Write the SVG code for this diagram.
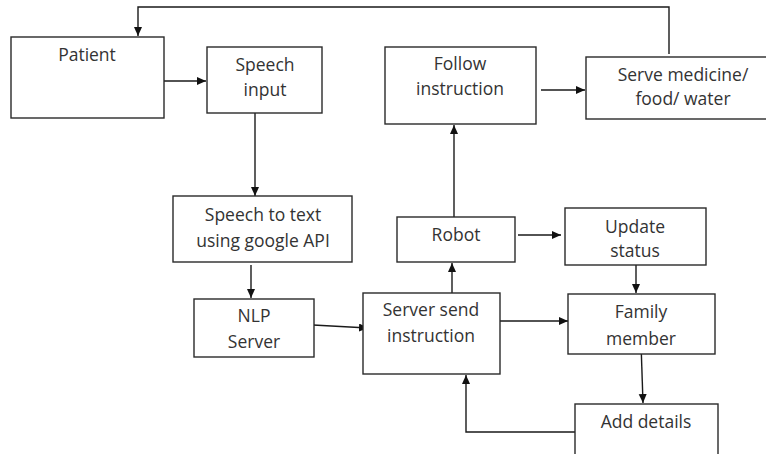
<svg xmlns="http://www.w3.org/2000/svg" width="766" height="454" viewBox="0 0 766 454">
  <defs>
    <marker id="arrow" markerUnits="userSpaceOnUse" markerWidth="10" markerHeight="10" refX="9" refY="4" orient="auto">
      <path d="M0,0 L9,4 L0,8 z" fill="#111"/>
    </marker>
    <style>
      .box { fill: #fff; stroke: #2a2a2a; stroke-width: 1.4; }
      .lbl { font-family: "Open Sans", "Noto Sans", "Liberation Sans", sans-serif; font-size: 17.5px; fill: #333; text-anchor: middle; }
      .wire { fill: none; stroke: #1a1a1a; stroke-width: 1.4; }
      .arr { marker-end: url(#arrow); }
    </style>
  </defs>
  <rect width="766" height="454" fill="#fff"/>

  <g id="connectors">
    <!-- feedback loop: serve -> patient -->
    <polyline class="wire arr" points="669,54 669,7 138,7 138,36"/>
    <!-- patient -> speech input -->
    <line class="wire arr" x1="163" y1="81" x2="206" y2="81"/>
    <!-- speech input -> speech to text -->
    <line class="wire arr" x1="255" y1="113" x2="255" y2="196"/>
    <!-- speech to text -> NLP server -->
    <line class="wire arr" x1="251" y1="265" x2="251" y2="298"/>
    <!-- NLP server -> server send -->
    <line class="wire arr" x1="313" y1="325" x2="368" y2="328"/>
    <!-- server send -> robot -->
    <line class="wire arr" x1="452" y1="293" x2="452" y2="263"/>
    <!-- robot -> follow instruction -->
    <line class="wire arr" x1="454" y1="217" x2="454" y2="125"/>
    <!-- follow instruction -> serve -->
    <line class="wire arr" x1="541" y1="90" x2="585" y2="90"/>
    <!-- robot -> update status -->
    <line class="wire arr" x1="518" y1="235" x2="561" y2="235"/>
    <!-- update status -> family member -->
    <line class="wire arr" x1="636" y1="265" x2="636" y2="293"/>
    <!-- server send -> family member -->
    <line class="wire arr" x1="500" y1="321" x2="568" y2="321"/>
    <!-- family member -> add details -->
    <line class="wire arr" x1="641" y1="343" x2="643" y2="403"/>
    <!-- add details -> server send -->
    <polyline class="wire arr" points="575,432 466,432 466,375"/>
  </g>

  <g id="patient">
    <rect class="box" x="11" y="37" width="153" height="81"/>
    <text class="lbl" x="87" y="61">Patient</text>
  </g>
  <g id="speech-input">
    <rect class="box" x="207" y="47" width="115" height="66"/>
    <text class="lbl" x="265" y="71">Speech</text>
    <text class="lbl" x="265" y="96">input</text>
  </g>
  <g id="follow-instruction">
    <rect class="box" x="385" y="47" width="151" height="77"/>
    <text class="lbl" x="460" y="70">Follow</text>
    <text class="lbl" x="460" y="95">instruction</text>
  </g>
  <g id="serve">
    <rect class="box" x="586" y="57" width="185" height="62"/>
    <text class="lbl" x="683" y="81">Serve medicine/</text>
    <text class="lbl" x="683" y="105">food/ water</text>
  </g>
  <g id="speech-to-text">
    <rect class="box" x="173" y="196" width="179" height="66"/>
    <text class="lbl" x="263" y="221">Speech to text</text>
    <text class="lbl" x="263" y="247">using google API</text>
  </g>
  <g id="nlp-server">
    <rect class="box" x="194" y="299" width="120" height="58"/>
    <text class="lbl" x="254" y="322">NLP</text>
    <text class="lbl" x="254" y="348">Server</text>
  </g>
  <g id="server-send">
    <rect class="box" x="363" y="293" width="137" height="81"/>
    <text class="lbl" x="431" y="316">Server send</text>
    <text class="lbl" x="431" y="342">instruction</text>
  </g>
  <g id="robot">
    <rect class="box" x="397" y="217" width="118" height="45"/>
    <text class="lbl" x="456" y="241">Robot</text>
  </g>
  <g id="update-status">
    <rect class="box" x="565" y="208" width="141" height="57"/>
    <text class="lbl" x="635" y="233">Update</text>
    <text class="lbl" x="635" y="257">status</text>
  </g>
  <g id="family-member">
    <rect class="box" x="568" y="294" width="147" height="60"/>
    <text class="lbl" x="641" y="318">Family</text>
    <text class="lbl" x="641" y="345">member</text>
  </g>
  <g id="add-details">
    <rect class="box" x="575" y="404" width="143" height="70"/>
    <text class="lbl" x="646" y="428">Add details</text>
  </g>
</svg>
